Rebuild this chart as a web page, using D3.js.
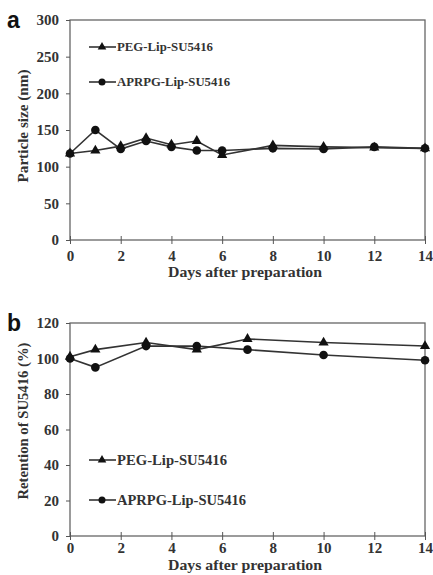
<!DOCTYPE html>
<html lang="en">
<head>
    <meta charset="UTF-8">
    <title>Particle size and retention of SU5416</title>
    <script src="https://d3js.org/d3.v7.min.js"></script>
    <style>
        body { margin: 0; background: #fff; }
        text { font-family: "Liberation Serif", "Times New Roman", serif; font-weight: bold; fill: #333; }
        text.letter { font-family: "Liberation Sans", Arial, sans-serif; fill: #111; }
    </style>
</head>
<body>
    <div id="chart"></div>

    <script>
        // panel a: particle size
        const daysA = [0, 1, 2, 3, 4, 5, 6, 8, 10, 12, 14];
        const pegSize = [118, 122, 128, 139, 130, 135, 116, 129, 127, 126, 125];
        const aprpgSize = [118, 150, 124, 135, 127, 122, 122, 125, 124, 127, 125];

        // panel b: retention
        const daysB = [0, 1, 3, 5, 7, 10, 14];
        const pegRet = [101, 105, 109, 105, 111, 109, 107];
        const aprpgRet = [100, 95, 107, 107, 105, 102, 99];

        const xTicks = [0, 2, 4, 6, 8, 10, 12, 14];
        const yTicksA = [0, 50, 100, 150, 200, 250, 300];
        const yTicksB = [0, 20, 40, 60, 80, 100, 120];

        const svg = d3.select("#chart").append("svg")
            .attr("width", 433)
            .attr("height", 575);

        function panel(opts) {
            const g = svg.append("g");
            const x = d3.scaleLinear().domain([0, 14]).range([70, 425]);
            const y = d3.scaleLinear().domain([0, opts.ymax]).range([opts.bottom, opts.top]);

            // frame
            g.append("rect")
                .attr("x", 70).attr("y", opts.top)
                .attr("width", 355).attr("height", opts.bottom - opts.top)
                .attr("fill", "none").attr("stroke", "#666").attr("stroke-width", 1.3);

            const xAxis = g.append("g")
                .attr("transform", `translate(0,${opts.bottom})`)
                .call(d3.axisBottom(x).tickValues(xTicks).tickSizeInner(4).tickSizeOuter(0).tickPadding(opts.xPad));
            xAxis.select(".domain").remove();
            xAxis.selectAll("line").attr("y1", -4).attr("stroke", "#555");
            xAxis.selectAll("text").attr("font-size", 15).attr("fill", "#333").attr("font-family", null);

            const yAxis = g.append("g")
                .attr("transform", "translate(70,0)")
                .call(d3.axisLeft(y).tickValues(opts.yTicks).tickSizeInner(4).tickSizeOuter(0).tickPadding(7));
            yAxis.select(".domain").remove();
            yAxis.selectAll("line").attr("stroke", "#555");
            yAxis.selectAll("text").attr("font-size", 15).attr("fill", "#333").attr("font-family", null);

            // titles
            g.append("text")
                .attr("x", 245).attr("y", opts.xTitleY)
                .attr("text-anchor", "middle").attr("font-size", 15)
                .attr("textLength", 154).attr("lengthAdjust", "spacingAndGlyphs")
                .text("Days after preparation");
            g.append("text")
                .attr("transform", `translate(28,${opts.yTitleMid}) rotate(-90)`)
                .attr("text-anchor", "middle").attr("font-size", 14)
                .attr("textLength", opts.yTitleLen).attr("lengthAdjust", "spacingAndGlyphs")
                .text(opts.ylabel);
            g.append("text")
                .attr("class", "letter")
                .attr("x", 7).attr("y", opts.top + 8)
                .attr("font-size", 23)
                .text(opts.letter);

            const line = d3.line().x(d => x(d[0])).y(d => y(d[1]));
            const tri = d3.symbol().type(d3.symbolTriangle).size(45);
            const triSmall = d3.symbol().type(d3.symbolTriangle).size(32);

            opts.series.forEach(s => {
                const pts = s.days.map((d, i) => [d, s.values[i]]);
                g.append("path")
                    .attr("d", line(pts))
                    .attr("fill", "none").attr("stroke", "#333").attr("stroke-width", 1.6);
                if (s.shape === "tri") {
                    g.selectAll(null).data(pts).enter().append("path")
                        .attr("d", tri)
                        .attr("transform", d => `translate(${x(d[0])},${y(d[1])})`)
                        .attr("fill", "#111");
                } else {
                    g.selectAll(null).data(pts).enter().append("circle")
                        .attr("cx", d => x(d[0])).attr("cy", d => y(d[1]))
                        .attr("r", 4.3).attr("fill", "#111");
                }
            });

            // legend
            opts.series.forEach((s, i) => {
                const ly = opts.legendY[i];
                g.append("line")
                    .attr("x1", 89).attr("x2", 116).attr("y1", ly).attr("y2", ly)
                    .attr("stroke", "#333").attr("stroke-width", 1.6);
                if (s.shape === "tri") {
                    g.append("path").attr("d", triSmall).attr("transform", `translate(102,${ly})`).attr("fill", "#111");
                } else {
                    g.append("circle").attr("cx", 102).attr("cy", ly).attr("r", 3.5).attr("fill", "#111");
                }
                g.append("text")
                    .attr("x", 117).attr("y", ly + opts.legendFont * 0.35)
                    .attr("font-size", opts.legendFont)
                    .attr("textLength", opts.legendLen[i]).attr("lengthAdjust", "spacingAndGlyphs")
                    .text(s.name);
            });
        }

        panel({
            top: 20, bottom: 240, ymax: 300, yTicks: yTicksA, xPad: 6,
            xTitleY: 277, yTitleMid: 126, yTitleLen: 113,
            ylabel: "Particle size (nm)", letter: "a",
            legendY: [47, 82], legendFont: 12, legendLen: [96, 113],
            series: [
                { name: "PEG-Lip-SU5416", days: daysA, values: pegSize, shape: "tri" },
                { name: "APRPG-Lip-SU5416", days: daysA, values: aprpgSize, shape: "circle" }
            ]
        });

        panel({
            top: 323, bottom: 536, ymax: 120, yTicks: yTicksB, xPad: 2,
            xTitleY: 570, yTitleMid: 421, yTitleLen: 157,
            ylabel: "Retention of SU5416 (%)", letter: "b",
            legendY: [460, 500], legendFont: 15, legendLen: [110, 129],
            series: [
                { name: "PEG-Lip-SU5416", days: daysB, values: pegRet, shape: "tri" },
                { name: "APRPG-Lip-SU5416", days: daysB, values: aprpgRet, shape: "circle" }
            ]
        });
    </script>
</body>
</html>
